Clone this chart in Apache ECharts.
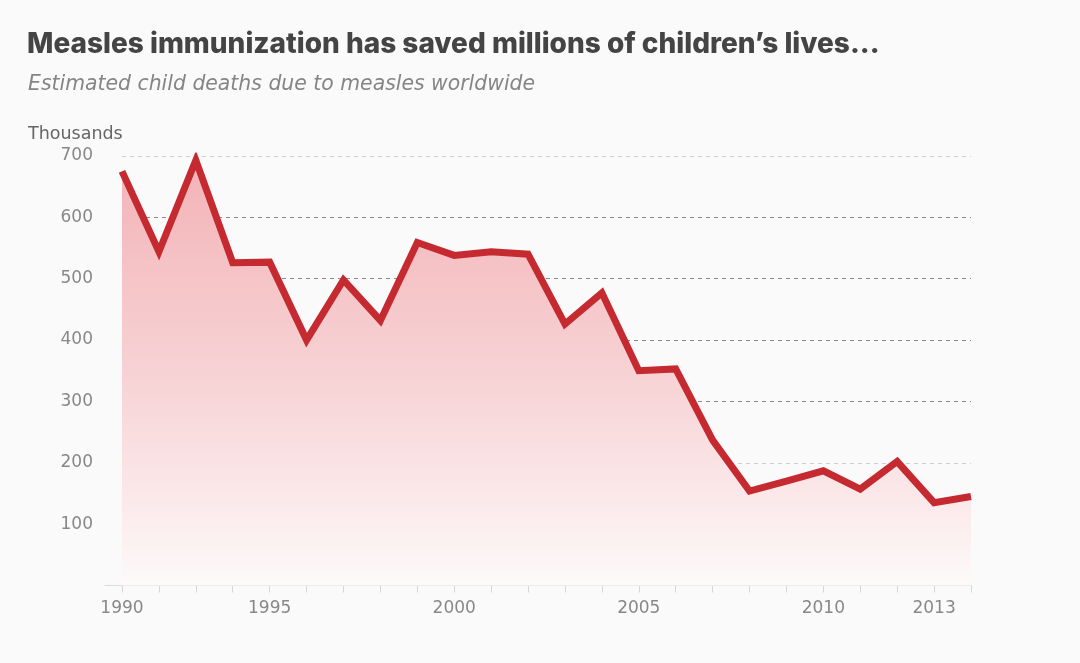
<!DOCTYPE html>
<html><head><meta charset="utf-8">
<script src="https://cdn.jsdelivr.net/npm/echarts@6/dist/echarts.min.js"></script>
<style>html,body{margin:0;padding:0;background:#fafafa}#c{width:1080px;height:663px}</style>
</head><body><div id="c"></div>
<script>
const years = [1990,1991,1992,1993,1994,1995,1996,1997,1998,1999,2000,2001,2002,2003,2004,2005,2006,2007,2008,2009,2010,2011,2012,2013];
const deaths = [675,544,693,526,527,400,498,432,559,538,544,540,426,477,350,353,237,154,170,187,157,202,135,145];
const tickLabels = ['1990','','','','1995','','','','','2000','','','','','2005','','','','','2010','','','2013',''];
const yTicks = [100,200,300,400,500,600,700];

const chart = echarts.init(document.getElementById('c'));
chart.setOption({
  backgroundColor:'#fafafa',
  animation:false,
  title:[
    {text:'Measles immunization has saved millions of children’s lives...',left:27,top:31,padding:0,
     textStyle:{fontFamily:'Inter',fontWeight:800,fontSize:28,color:'#444'}},
    {text:'Estimated child deaths due to measles worldwide',left:28,top:75,padding:0,
     textStyle:{fontFamily:'DejaVu Sans',fontStyle:'italic',fontWeight:'normal',fontSize:20.4,color:'#858585'}},
    {text:'Thousands',left:28,top:125,padding:0,textStyle:{fontFamily:'DejaVu Sans',fontWeight:'normal',fontSize:17.5,color:'#666'}}
  ],
  grid:[{left:122,right:109,top:156,bottom:77.5},{left:105,right:109,top:156,bottom:77.5}],
  xAxis:[{
    type:'category',data:years,boundaryGap:false,gridIndex:0,
    axisLine:{show:true,lineStyle:{color:'#dcdcdc',width:1}},
    axisTick:{show:true,interval:0,length:7,lineStyle:{color:'#d6d6d6'}},
    axisLabel:{interval:0,margin:15,fontFamily:'DejaVu Sans',fontSize:17,color:'#888',
      formatter:(v,i)=>tickLabels[i]},
    splitLine:{show:false}
  },{
    type:'value',gridIndex:1,min:0,max:1,
    axisLine:{show:true,lineStyle:{color:'#dcdcdc',width:1}},
    axisTick:{show:false},axisLabel:{show:false},splitLine:{show:false}
  }],
  yAxis:[{
    type:'value',min:0,max:700,interval:100,gridIndex:0,
    axisLine:{show:false},axisTick:{show:false},
    axisLabel:{margin:29,fontFamily:'DejaVu Sans',fontSize:17,color:'#888',
      formatter:v=>yTicks.includes(v)?String(v):''},
    splitLine:{show:true,lineStyle:{type:[4,4],width:1,
      color:['rgba(0,0,0,0)','#8a8a8a','#cfcfcf','#8a8a8a','#8a8a8a','#8a8a8a','#8a8a8a','#cfcfcf']}}
  },{type:'value',gridIndex:1,show:false,min:0,max:1}],
  series:[{
    type:'line',data:deaths,xAxisIndex:0,yAxisIndex:0,
    symbol:'none',z:3,
    lineStyle:{color:'#c62a31',width:7,join:'miter'},
    areaStyle:{opacity:1,color:new echarts.graphic.LinearGradient(0,0,0,1,[
      {offset:0,color:'#f3b3b7'},
      {offset:0.5,color:'#f7d2d4'},
      {offset:0.85,color:'#fcedee'},
      {offset:1,color:'#fcfafa'}])}
  }]
});
</script></body></html>
